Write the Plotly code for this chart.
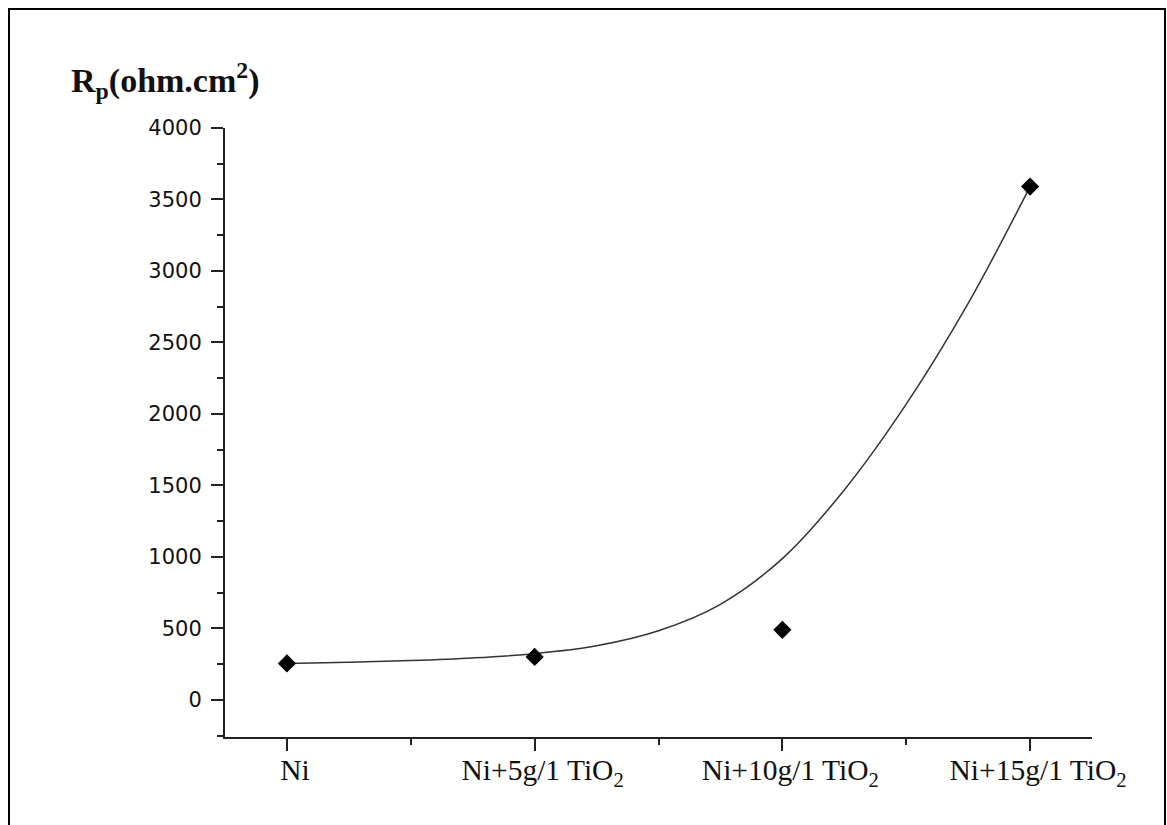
import plotly.graph_objects as go

# Polarization resistance of the Ni and Ni-TiO2 coatings
categories = ["Ni", "Ni+5g/1 TiO<sub>2</sub>", "Ni+10g/1 TiO<sub>2</sub>", "Ni+15g/1 TiO<sub>2</sub>"]
positions = [0, 1, 2, 3]
rp_values = [255, 300, 490, 3590]

# Smooth trend curve, sampled every quarter category along its path
curve_x = [0.0, 0.25, 0.5, 0.75, 1.0, 1.25, 1.5, 1.75, 2.0, 2.25, 2.5, 2.75, 3.0]
curve_y = [255, 263, 275, 293, 323, 378, 483, 668, 988, 1468, 2068, 2773, 3590]

W, H = 1167, 825
L, R, T, B = 225, 75, 128, 88
pw, ph = W - L - R, H - T - B


def px_x(px):
    return (px - L) / pw


def px_y(py):
    return (H - B - py) / ph


fig = go.Figure()

fig.add_trace(go.Scatter(
    x=curve_x, y=curve_y, mode="lines",
    line=dict(color="#333333", width=1.5, shape="spline", smoothing=1.0),
    hoverinfo="skip", showlegend=False,
))

fig.add_trace(go.Scatter(
    x=positions, y=rp_values, mode="markers",
    marker=dict(symbol="diamond", size=14, color="black"),
    showlegend=False,
))

axis_common = dict(
    showgrid=False, zeroline=False, showline=True,
    linecolor="#222222", linewidth=2,
    ticks="outside", tickcolor="#222222", tickwidth=2, ticklen=12,
)

fig.update_xaxes(
    **axis_common,
    range=[-0.25, 3.25],
    tickmode="array", tickvals=positions, ticktext=categories,
    tickfont=dict(family="Liberation Serif", size=29.5, color="#111111"),
    ticklabelshift=8,
    ticklabelstandoff=-6,
    minor=dict(tickmode="array", tickvals=[0.5, 1.5, 2.5], ticklen=6,
               tickwidth=2, tickcolor="#222222", ticks="outside"),
)

fig.update_yaxes(
    **axis_common,
    range=[-260, 4000],
    tickmode="linear", tick0=0, dtick=500,
    tickfont=dict(family="DejaVu Sans", size=21, color="#111111"),
    ticklabelstandoff=5,
    minor=dict(dtick=250, ticklen=6, tickwidth=2, tickcolor="#222222", ticks="outside"),
)

# Outer frame
fig.add_shape(
    type="rect", xref="paper", yref="paper",
    x0=px_x(9), x1=px_x(1165), y0=px_y(830), y1=px_y(9),
    line=dict(color="black", width=2), fillcolor="rgba(0,0,0,0)", layer="below",
)

fig.add_annotation(
    xref="paper", yref="paper", x=px_x(69), y=px_y(80),
    xanchor="left", yanchor="middle", showarrow=False,
    text="<b>R<sub>p</sub>(ohm.cm<sup>2</sup>)</b>",
    font=dict(family="Liberation Serif", size=34, color="#111111"),
)

fig.update_layout(
    width=W, height=H,
    margin=dict(l=L, r=R, t=T, b=B),
    paper_bgcolor="white", plot_bgcolor="white",
)

fig.write_html("out.html")
